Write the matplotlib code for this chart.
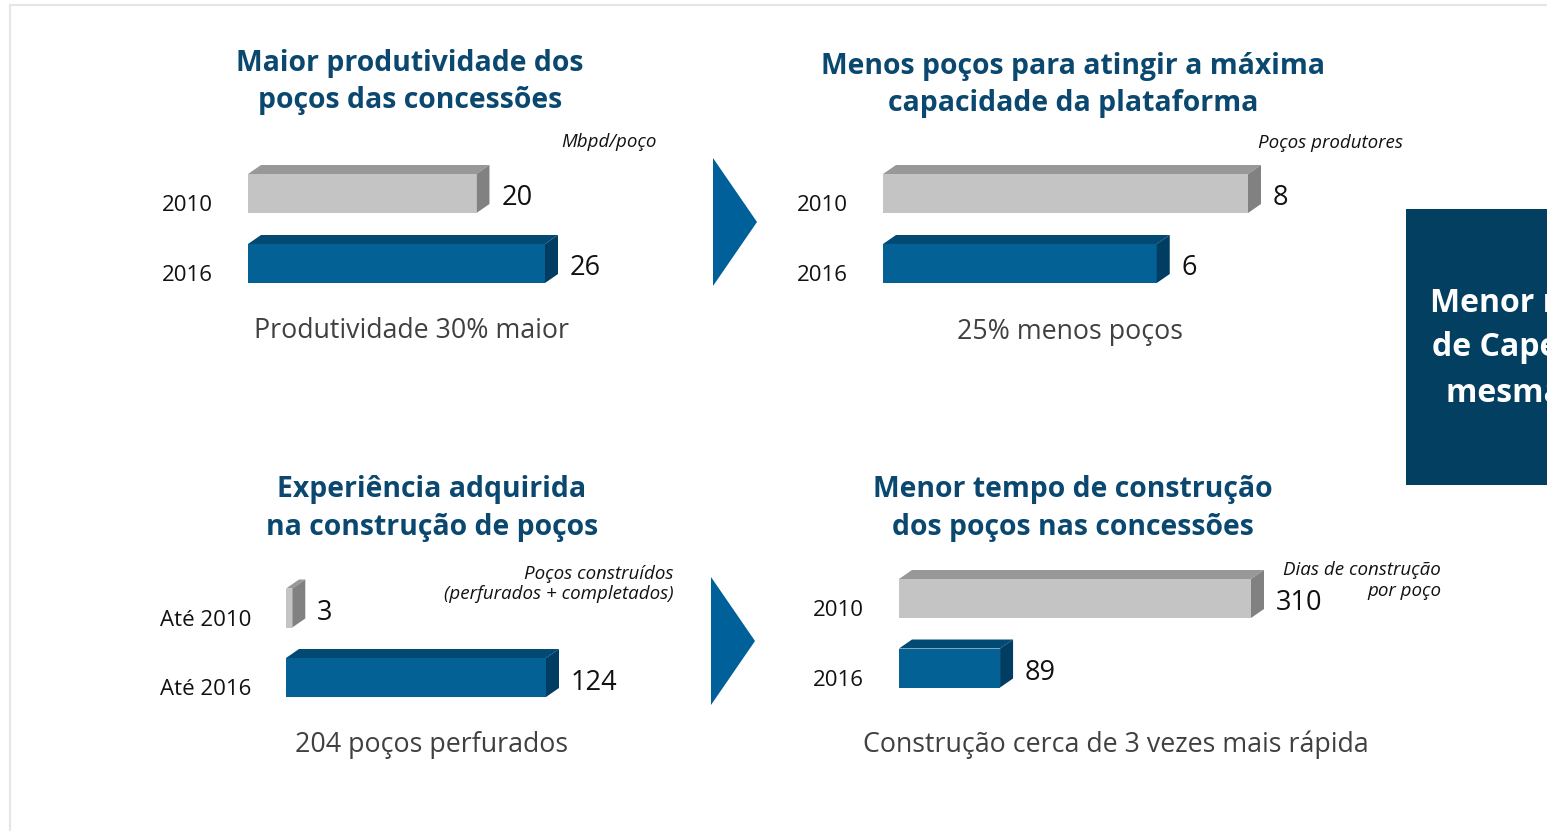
import matplotlib
matplotlib.use("Agg")
import matplotlib.pyplot as plt
from matplotlib.patches import Rectangle, Polygon

plt.rcParams['font.family'] = ['Open Sans', 'DejaVu Sans']

W, H = 1547, 831

# data
cats_prod = ['2010', '2016']
vals_prod = [20, 26]
cats_wells = ['2010', '2016']
vals_wells = [8, 6]
cats_exp = ['Até 2010', 'Até 2016']
vals_exp = [3, 124]
cats_days = ['2010', '2016']
vals_days = [310, 89]

NAVY = '#0b4870'
GREY_TXT = '#404040'
BLUE = ('#036195', '#024a73', '#013d62')   # front, top, side
GREY = ('#c4c4c4', '#989898', '#818181')

fig = plt.figure(figsize=(W / 100, H / 100), dpi=100)
fig.patch.set_facecolor('white')


def fx(x):
    return x / W


def fy(y):
    return 1 - y / H


def panel(left, c_top, c_bot, px_max, cats, vals, ax_w=560):
    ppy = c_bot - c_top
    top = c_top - 0.75 * ppy
    height = 2.5 * ppy
    ax = fig.add_axes([fx(left), fy(top + height), ax_w / W, height / H])
    ax.set_xlim(0, max(vals) * ax_w / px_max)
    ax.set_ylim(-0.75, 1.75)
    ax.axis('off')
    ppu = px_max / max(vals)
    dx, dy, h = 13 / ppu, 9 / ppy, 39 / ppy
    for i, (cat, v) in enumerate(zip(cats, vals)):
        y = 1 - i
        front, topc, side = GREY if i == 0 else BLUE
        y0, y1 = y - h / 2, y + h / 2
        ax.add_patch(Rectangle((0, y0), v, h, fc=front, ec='none', clip_on=False))
        ax.add_patch(Polygon([(0, y1), (v, y1), (v + dx, y1 + dy), (dx, y1 + dy)],
                             fc=topc, ec='none', clip_on=False))
        ax.add_patch(Polygon([(v, y0), (v + dx, y0 + dy), (v + dx, y1 + dy), (v, y1)],
                             fc=side, ec='none', clip_on=False))
        ax.annotate(str(v), (v, y), xytext=(25, -5), textcoords='offset pixels',
                    ha='left', va='center', fontsize=19.5, color='#111111')
        ax.annotate(cat, (0, y), xytext=(-35, -12), textcoords='offset pixels',
                    ha='right', va='center', fontsize=16, color='#111111')
    return ax


panel(248, 193.5, 263.5, 297, cats_prod, vals_prod)
panel(883, 193.5, 263.5, 365, cats_wells, vals_wells)
panel(286, 608, 677.5, 260, cats_exp, vals_exp)
panel(899, 598.5, 668, 352, cats_days, vals_days)

# titles
titles = [
    (410, 82, 'Maior produtividade dos\npoços das concessões'),
    (1073, 85, 'Menos poços para atingir a máxima\ncapacidade da plataforma'),
    (432, 508.5, 'Experiência adquirida\nna construção de poços'),
    (1073, 508.5, 'Menor tempo de construção\ndos poços nas concessões'),
]
for x, y, t in titles:
    fig.text(fx(x), fy(y), t, ha='center', va='center', fontsize=20.4,
             fontweight='bold', color=NAVY, linespacing=1.4)

units = [
    (657, 142, 'Mbpd/poço'),
    (1403, 143, 'Poços produtores'),
    (674, 584, 'Poços construídos\n(perfurados + completados)'),
    (1441, 580.5, 'Dias de construção\npor poço'),
]
for x, y, t in units:
    fig.text(fx(x), fy(y), t, ha='right', va='center', fontsize=13.5,
             style='italic', color='#111111', multialignment='right',
             linespacing=1.2)

subs = [
    (411, 331, 'Produtividade 30% maior'),
    (1070, 332, '25% menos poços'),
    (432, 745, '204 poços perfurados'),
    (1116, 745, 'Construção cerca de 3 vezes mais rápida'),
]
for x, y, t in subs:
    fig.text(fx(x), fy(y), t, ha='center', va='center', fontsize=19.3,
             color=GREY_TXT)

# arrows between panels
for x0, ym in [(713, 222), (711, 641)]:
    fig.patches.append(Polygon([(fx(x0), fy(ym - 64)), (fx(x0 + 44), fy(ym)),
                                (fx(x0), fy(ym + 64))], closed=True,
                               transform=fig.transFigure, fc='#00609a', ec='none'))

# dark box on the right (cut off)
fig.patches.append(Rectangle((fx(1406), fy(485)), fx(200), (485 - 209) / H,
                             transform=fig.transFigure, fc='#023f60', ec='none'))
for x, y, t in [(1430, 304, 'Menor necessidade'), (1432, 348, 'de Capex para a'),
                (1446, 393, 'mesma produção')]:
    fig.text(fx(x), fy(y), t, ha='left', va='center', fontsize=23,
             fontweight='bold', color='white')

# light frame
fig.add_artist(plt.Line2D([fx(10), fx(10)], [fy(5), 0], transform=fig.transFigure,
                          color='#e6e6e6', lw=1.5))
fig.add_artist(plt.Line2D([fx(10), 1], [fy(5), fy(5)], transform=fig.transFigure,
                          color='#e6e6e6', lw=1.5))

fig.savefig('out.png', dpi=100)
